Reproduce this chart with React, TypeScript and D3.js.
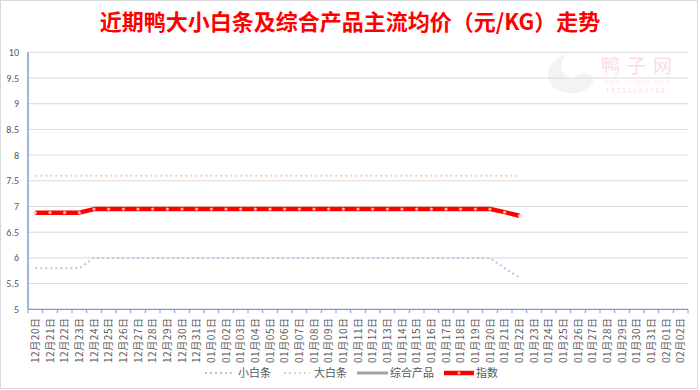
import React from "react";
import * as d3 from "d3";

const categories: string[] = [
  "12月20日","12月21日","12月22日","12月23日","12月24日","12月25日","12月26日","12月27日","12月28日","12月29日","12月30日","12月31日",
  "01月01日","01月02日","01月03日","01月04日","01月05日","01月06日","01月07日","01月08日","01月09日","01月10日","01月11日","01月12日",
  "01月13日","01月14日","01月15日","01月16日","01月17日","01月18日","01月19日","01月20日","01月21日","01月22日","01月23日","01月24日",
  "01月25日","01月26日","01月27日","01月28日","01月29日","01月30日","01月31日","02月01日","02月02日",
];

const smallWhite: number[] = [
  5.8,5.8,5.8,5.8,6,6,6,6,6,6,6,6,
  6,6,6,6,6,6,6,6,6,6,6,6,
  6,6,6,6,6,6,6,6,5.8,5.62,
];
const bigWhite: number[] = [
  7.6,7.6,7.6,7.6,7.6,7.6,7.6,7.6,7.6,7.6,7.6,7.6,
  7.6,7.6,7.6,7.6,7.6,7.6,7.6,7.6,7.6,7.6,7.6,7.6,
  7.6,7.6,7.6,7.6,7.6,7.6,7.6,7.6,7.6,7.6,
];
const indexSeries: number[] = [
  6.88,6.88,6.88,6.88,6.95,6.95,6.95,6.95,6.95,6.95,6.95,6.95,
  6.95,6.95,6.95,6.95,6.95,6.95,6.95,6.95,6.95,6.95,6.95,6.95,
  6.95,6.95,6.95,6.95,6.95,6.95,6.95,6.95,6.89,6.82,
];
const yTicks: number[] = [5,5.5,6,6.5,7,7.5,8,8.5,9,9.5,10];
const legendNames: string[] = ["小白条","大白条","综合产品","指数"];

const W = 700, H = 390;
const left = 28, right = 688, top = 52.3, bottom = 309.3;
const cjk = "'Noto Sans CJK SC', 'Noto Sans', sans-serif";

export default function App() {
  const x = d3.scaleBand<string>().domain(categories).range([left, right]).padding(0);
  const y = d3.scaleLinear().domain([5, 10]).range([bottom, top]);
  const cx = (i: number) => (x(categories[i]) as number) + x.bandwidth() / 2;
  const line = d3.line<number>().x((_, i) => cx(i)).y((d) => y(d));

  const legendItems = [
    { name: legendNames[0], x1: 205, x2: 234, tx: 238, color: "#b4c7e7", dash: "2 3", w: 2 },
    { name: legendNames[1], x1: 284, x2: 310, tx: 314, color: "#f8cbad", dash: "2 3", w: 2 },
    { name: legendNames[2], x1: 357, x2: 388, tx: 390, color: "#a5a5a5", dash: undefined, w: 3 },
    { name: legendNames[3], x1: 444, x2: 474, tx: 476, color: "#ff0000", dash: undefined, w: 4.5 },
  ];

  return (
    <svg width={W} height={H} style={{ position: "absolute", left: 0, top: 0, background: "#fff" }}>
      <rect x={0.5} y={0.5} width={697} height={388} fill="#fff" stroke="#d9d9d9" />
      <text x={350} y={30} textAnchor="middle" fill="#ff0000" fontSize={22} fontWeight="bold" fontFamily={cjk}>
        近期鸭大小白条及综合产品主流均价（元/KG）走势
      </text>
      {/* watermark */}
      <g opacity={0.3}>
        <path d="M552,86 C544,74 548,60 566,54 C558,64 560,74 572,80 C580,70 590,72 594,80 C588,94 564,98 552,86 Z" fill="#d9d9d9" />
        <text x={640} y={73} textAnchor="middle" fill="#f08c8c" fontSize={19} fontFamily={cjk} letterSpacing={7}>鸭子网</text>
        <text x={637} y={84} textAnchor="middle" fill="#e8b8b8" fontSize={5.5} fontFamily="Arial" letterSpacing={1.2}>WWW.INTEDE.COM</text>
        <text x={636} y={93} textAnchor="middle" fill="#f09a9a" fontSize={7} fontFamily="Arial" letterSpacing={1.6}>15131069765</text>
      </g>
      {yTicks.map((t) => (
        <g key={t}>
          {t > 5 && <line x1={left} x2={right} y1={y(t)} y2={y(t)} stroke="#d9d9d9" strokeWidth={1} />}
          <text x={19} y={y(t) + 3.5} textAnchor="end" fill="#595959" fontSize={10} fontFamily="Calibri, 'Liberation Sans', Arial">{t}</text>
        </g>
      ))}
      <line x1={left} x2={left} y1={top} y2={bottom} stroke="#7b9bd8" strokeWidth={1.5} />
      <line x1={left} x2={right} y1={bottom} y2={bottom} stroke="#7b9bd8" strokeWidth={1.2} />
      {categories.map((c) => (
        <line key={"t" + c} x1={(x(c) as number)} x2={(x(c) as number)} y1={bottom} y2={bottom + 4} stroke="#7b9bd8" strokeWidth={1} />
      ))}
      <line x1={right} x2={right} y1={bottom} y2={bottom + 4} stroke="#7b9bd8" strokeWidth={1} />
      {categories.map((c, i) => (
        <text key={c} transform={`translate(${cx(i) + 3.8},${bottom + 8}) rotate(-90)`} textAnchor="end" fill="#595959" fontSize={10} letterSpacing={0.6} fontFamily={cjk}>
          {c}
        </text>
      ))}
      <path d={line(smallWhite) || ""} fill="none" stroke="#b4c7e7" strokeWidth={2} strokeDasharray="2 3" />
      <path d={line(bigWhite) || ""} fill="none" stroke="#f8cbad" strokeWidth={2} strokeDasharray="2 3" />
      <path d={line(indexSeries) || ""} fill="none" stroke="#ff0000" strokeWidth={4.5} strokeLinejoin="round" />
      {indexSeries.map((v, i) => (
        <circle key={"m" + i} cx={cx(i)} cy={y(v)} r={1.6} fill="#ffb3b3" />
      ))}
      {legendItems.map((l) => (
        <g key={l.name}>
          <line x1={l.x1} x2={l.x2} y1={373} y2={373} stroke={l.color} strokeWidth={l.w} strokeDasharray={l.dash} />
          {l.name === "指数" && <circle cx={(l.x1 + l.x2) / 2} cy={373} r={1.6} fill="#ffb3b3" />}
          <text x={l.tx} y={377} fill="#595959" fontSize={11} fontFamily={cjk}>{l.name}</text>
        </g>
      ))}
    </svg>
  );
}
